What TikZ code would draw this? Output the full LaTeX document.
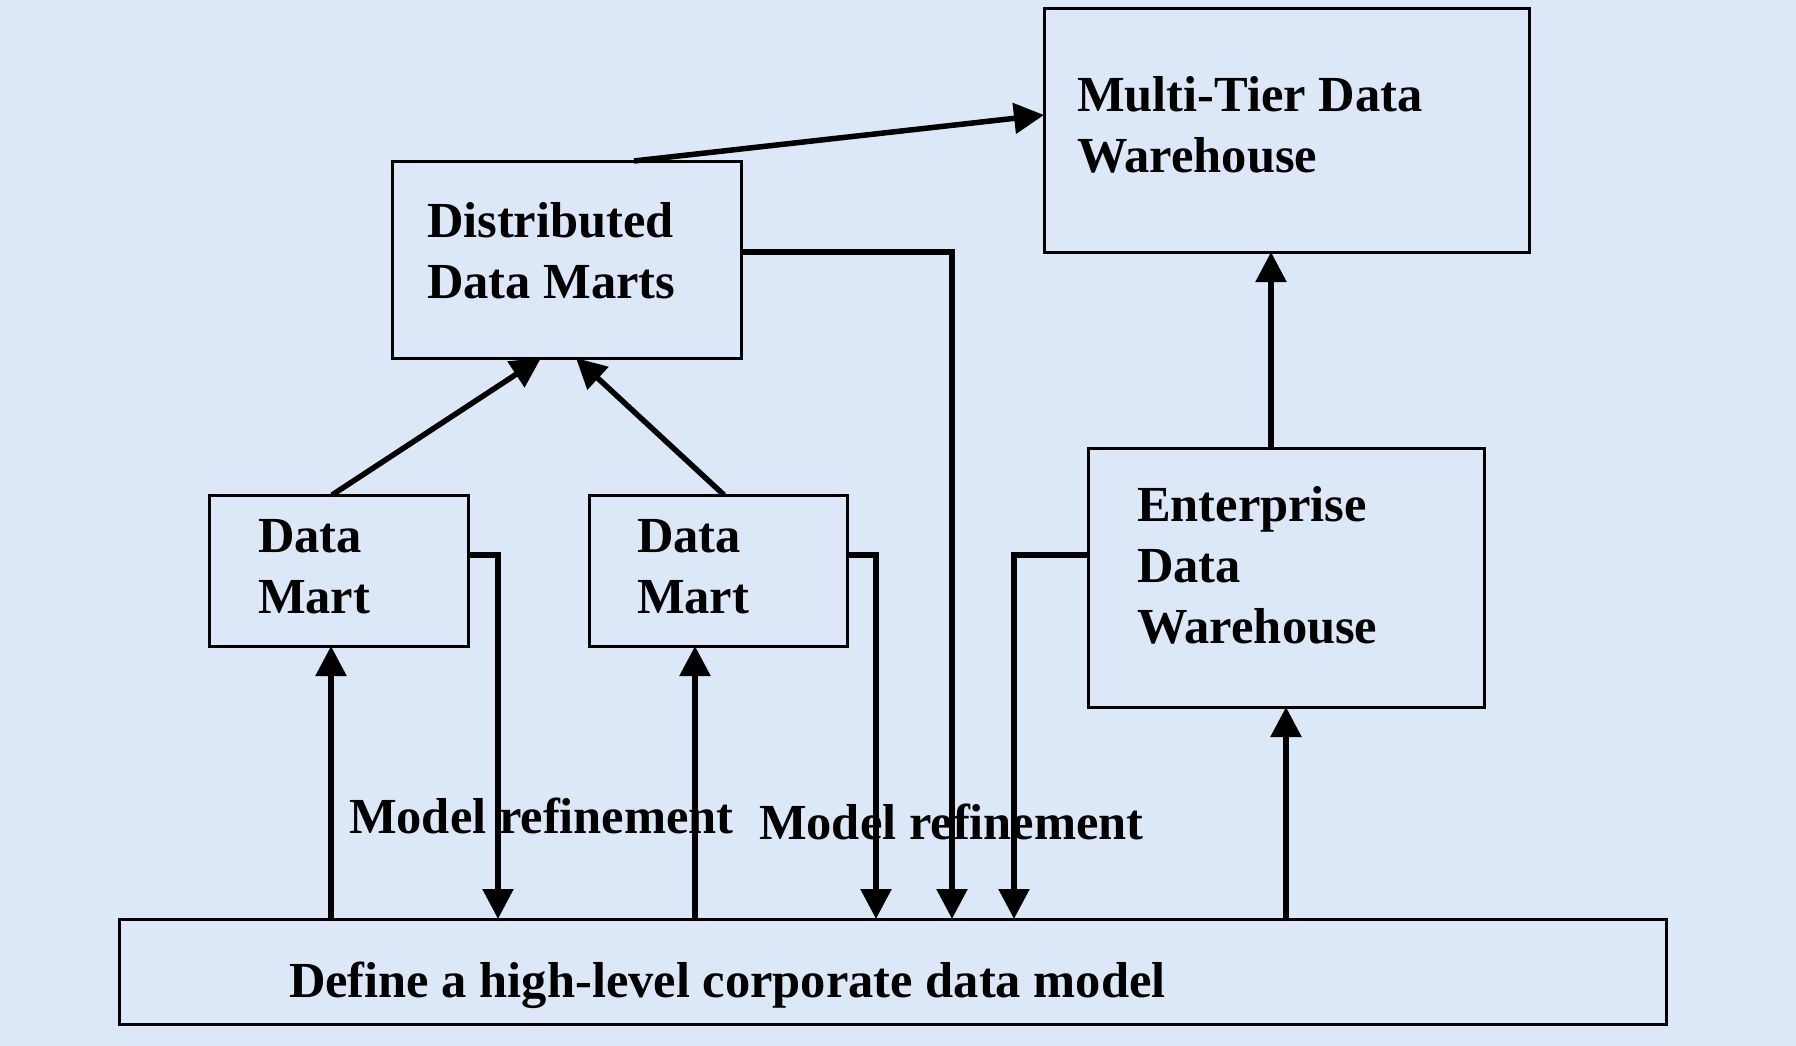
\documentclass[tikz,border=0pt]{standalone}
\usepackage{fontspec}
\setmainfont{Liberation Serif}
\usetikzlibrary{arrows.meta,calc}
\definecolor{bgblue}{RGB}{220,231,248}
\tikzset{
  box/.style={draw=black, line width=3pt, rectangle, inner sep=0pt, outer sep=0pt, anchor=north west},
  lbl/.style={inner sep=0pt, outer sep=0pt, anchor=base west, font=\bfseries\fontsize{50.5}{61}\selectfont},
  conn/.style={line width=5.5pt, draw=black},
  arr/.style={conn, -{Triangle[length=30pt,width=30pt]}},
}
\begin{document}
\begin{tikzpicture}[x=1pt,y=-1pt]
\fill[bgblue] (0,0) rectangle (1796,1046);
\useasboundingbox (0,0) rectangle (1796,1046);

% boxes
\node[box, minimum width=485pt, minimum height=243pt] (mt) at (1044,9) {};
\node[box, minimum width=349pt, minimum height=197pt] (ddm) at (392,161) {};
\node[box, minimum width=259pt, minimum height=151pt] (dm1) at (209,495) {};
\node[box, minimum width=258pt, minimum height=151pt] (dm2) at (589,495) {};
\node[box, minimum width=396pt, minimum height=259pt] (edw) at (1088,448) {};
\node[box, minimum width=1547pt, minimum height=105pt] (base) at (119,919) {};

% texts
\node[lbl] (mtt) at (1077,112) {\vtop{\hbox{Multi-Tier Data}\hbox{Warehouse}}};
\node[lbl] (ddmt) at (427,237) {\vtop{\hbox{Distributed}\hbox{Data Marts}}};
\node[lbl] (dm1t) at (258,552) {\vtop{\hbox{Data}\hbox{Mart}}};
\node[lbl] (dm2t) at (637,552) {\vtop{\hbox{Data}\hbox{Mart}}};
\node[lbl] (edwt) at (1137,521) {\vtop{\hbox{Enterprise}\hbox{Data}\hbox{Warehouse}}};
\node[lbl] (baset) at (289,997) {Define a high-level corporate data model};
\node[lbl] (mr1) at (349,833) {Model refinement};
\node[lbl] (mr2) at (759,839) {Model refinement};

% upward arrows
\draw[arr] ([xshift=242pt]ddm.north west) -- ([yshift=15.5pt]mt.west);
\draw[arr] ([xshift=-6.5pt]dm1.north) -- ([xshift=-25.5pt]ddm.south);
\draw[arr] ([xshift=6pt]dm2.north) -- ([xshift=9.5pt]ddm.south);
\draw[arr] ([xshift=-15pt]edw.north) coordinate (e1) -- (e1 |- mt.south);
\draw[arr] ([xshift=212pt]base.north west) coordinate (u1) -- (u1 |- dm1.south);
\draw[arr] ([xshift=576pt]base.north west) coordinate (u2) -- (u2 |- dm2.south);
\draw[arr] (base.north -| edw.south) -- (edw.south);

% refinement arrows down
\draw[arr] ([yshift=15.5pt]dm1.east) -| ([xshift=379pt]base.north west);
\draw[arr] ([yshift=15.5pt]dm2.east) -| ([xshift=757pt]base.north west);
\draw[arr] ([yshift=7.5pt]ddm.east) -| ([xshift=833pt]base.north west);
\draw[arr] ([yshift=22.5pt]edw.west) -| ([xshift=895pt]base.north west);
\end{tikzpicture}
\end{document}
